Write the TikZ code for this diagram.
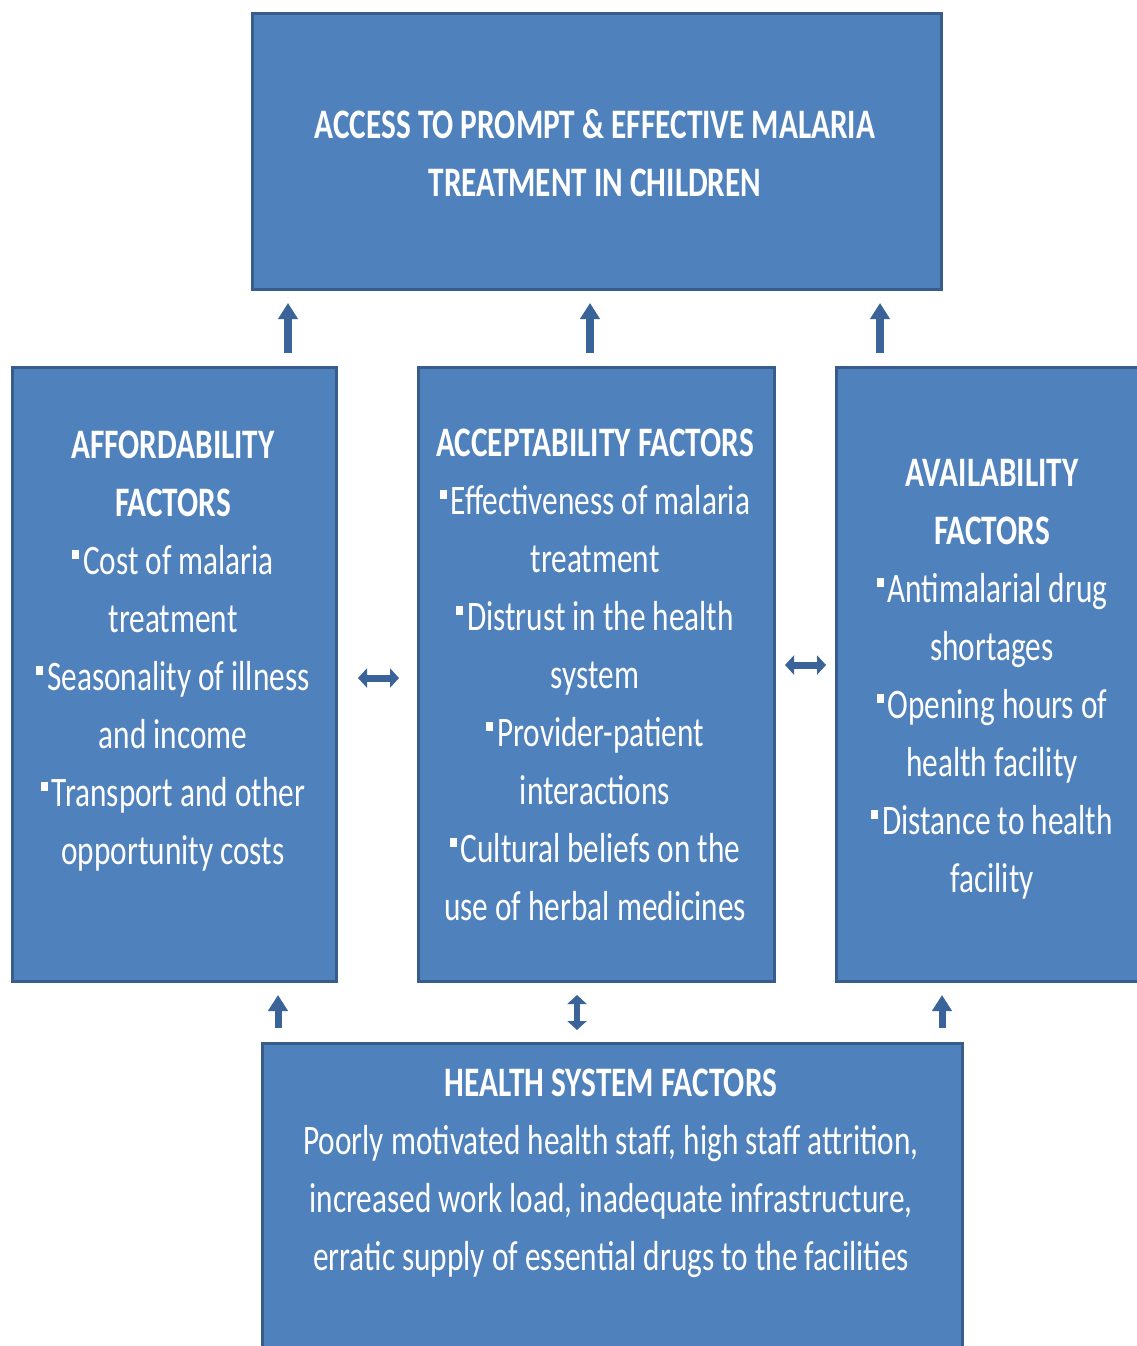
\documentclass[tikz,border=0pt]{standalone}
\usepackage{fontspec}
\setmainfont{Carlito}[FakeStretch=0.745]
\usetikzlibrary{arrows.meta}
\definecolor{boxfill}{HTML}{4F81BD}
\definecolor{boxline}{HTML}{385D8A}
\definecolor{arrowcol}{HTML}{3A6399}
\newcommand{\bul}{\rule[15pt]{7pt}{9pt}\hspace{4pt}}
\tikzset{
  factorbox/.style={draw=boxline, fill=boxfill, line width=3pt, rectangle,
    anchor=north west, inner sep=0pt},
  % anchor=base sits on the baseline of the last line
  boxtext/.style={text=white, align=center, anchor=base, inner sep=0pt,
    font=\fontsize{42}{58}\selectfont},
  uparrow/.style={draw=arrowcol, line width=8pt,
    -{Triangle[width=19pt,length=16pt]}},
  twoway/.style={draw=arrowcol, line width=7pt,
    {Triangle[width=19pt,length=9pt]}-{Triangle[width=19pt,length=9pt]}}
}
\begin{document}
\begin{tikzpicture}[x=1pt,y=-1pt]
\clip (0,0) rectangle (1137,1346);
\fill[white] (0,0) rectangle (1137,1346);

% boxes
\node[factorbox, minimum width=689pt, minimum height=276pt] (top) at (251,12) {};
\node[factorbox, minimum width=324pt, minimum height=614pt] (afford) at (11,366) {};
\node[factorbox, minimum width=356pt, minimum height=614pt] (accept) at (417,366) {};
\node[factorbox, minimum width=330pt, minimum height=614pt] (avail) at (835,366) {};
\node[factorbox, minimum width=700pt, minimum height=330pt] (health) at (261,1042) {};

% texts
\node[boxtext] (toptext) at (595,196) {\bfseries ACCESS TO PROMPT \& EFFECTIVE MALARIA\\
  \bfseries TREATMENT IN CHILDREN};
\node[boxtext] (affordtext) at (173,864) {\bfseries AFFORDABILITY\\
  \bfseries FACTORS\\
  \bul Cost of malaria\\ treatment\\
  \bul Seasonality of illness\\ and income\\
  \bul Transport and other\\ opportunity costs};
\node[boxtext] (accepttext) at (595,920) {\bfseries ACCEPTABILITY FACTORS\\
  \bul Effectiveness of malaria\\ treatment\\
  \bul Distrust in the health\\ system\\
  \bul Provider-patient\\ interactions\\
  \bul Cultural beliefs on the\\ use of herbal medicines};
\node[boxtext] (availtext) at (992,892) {\bfseries AVAILABILITY\\
  \bfseries FACTORS\\
  \bul Antimalarial drug\\ shortages\\
  \bul Opening hours of\\ health facility\\
  \bul Distance to health\\ facility};
\node[boxtext] (healthtext) at (611,1270) {\bfseries HEALTH SYSTEM FACTORS\\
  Poorly motivated health staff, high staff attrition,\\
  increased work load, inadequate infrastructure,\\
  erratic supply of essential drugs to the facilities};

% arrow columns
\coordinate (c1) at (288,0);
\coordinate (c2) at (590,0);
\coordinate (c3) at (880,0);
\coordinate (c4) at (278,0);
\coordinate (c5) at (577,0);
\coordinate (c6) at (942,0);
\coordinate (r1) at (0,678);
\coordinate (r2) at (0,665);

% factors lead up to access
\draw[uparrow, shorten <=13pt, shorten >=12pt] (afford.north -| c1) -- (top.south -| c1);
\draw[uparrow, shorten <=13pt, shorten >=12pt] (accept.north -| c2) -- (top.south -| c2);
\draw[uparrow, shorten <=13pt, shorten >=12pt] (avail.north -| c3) -- (top.south -| c3);

% links between factor groups
\draw[twoway, shorten <=20pt, shorten >=18pt] (afford.east |- r1) -- (accept.west |- r1);
\draw[twoway, shorten <=9pt, shorten >=9pt] (accept.east |- r2) -- (avail.west |- r2);

% health system feeds the factor groups
\draw[uparrow, line width=7pt, shorten <=14pt, shorten >=12pt] (health.north -| c4) -- (afford.south -| c4);
\draw[twoway, line width=6pt, shorten <=12pt, shorten >=12pt] (health.north -| c5) -- (accept.south -| c5);
\draw[uparrow, line width=7pt, shorten <=14pt, shorten >=12pt] (health.north -| c6) -- (avail.south -| c6);
\end{tikzpicture}
\end{document}
